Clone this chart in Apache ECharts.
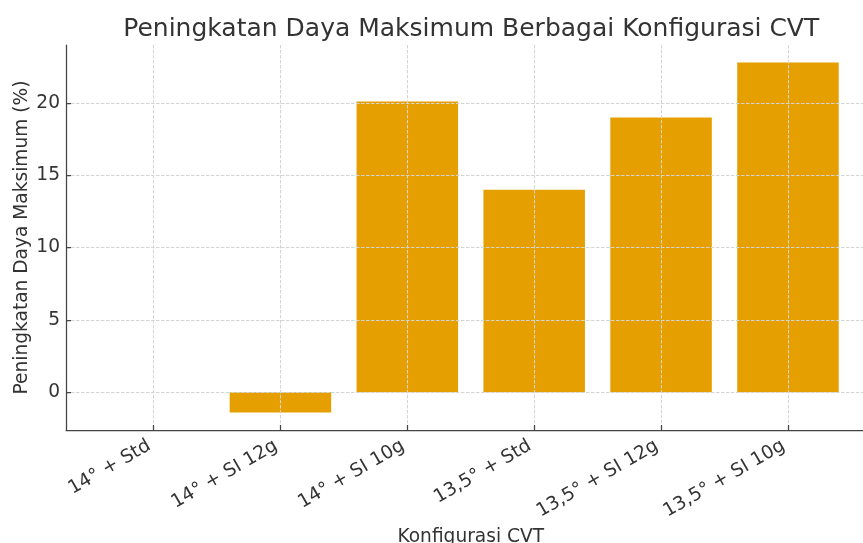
<!DOCTYPE html>
<html>
<head>
<meta charset="utf-8">
<script src="https://cdn.jsdelivr.net/npm/echarts@6/dist/echarts.min.js"></script>
<style>
html,body{margin:0;padding:0;background:#fff;}
#chart{width:863px;height:543px;}
</style>
</head>
<body>
<div id="chart"></div>
<script>
const categories = ['14° + Std', '14° + SI 12g', '14° + SI 10g', '13,5° + Std', '13,5° + SI 12g', '13,5° + SI 10g'];
const values = [0, -1.4, 20.1, 14.0, 19.0, 22.8];
const yTicks = [0, 5, 10, 15, 20];
const titleText = 'Peningkatan Daya Maksimum Berbagai Konfigurasi CVT';
const xName = 'Konfigurasi CVT';
const yName = 'Peningkatan Daya Maksimum (%)';

const W = 863, H = 543;
const gridLeft = 66, gridTop = 45, gridBottom = 113;
const plotW = 809.5;
const xMin = -0.69, xMax = categories.length - 1 + 0.69;
const vMin = Math.min(...values, 0), vMax = Math.max(...values, 0);
const pad = (vMax - vMin) * 0.05;
const yMin = vMin - pad, yMax = vMax + pad;
const barW = 0.8 * plotW / (xMax - xMin);
const font = 'DejaVu Sans';
const textColor = '#333';
const spineColor = '#444';
const tickFont = 18.6;
const gridLine = {show: true, lineStyle: {color: '#d4d4d4', type: [3.5, 1.5], width: 1}};

const chart = echarts.init(document.getElementById('chart'), null, {renderer: 'canvas'});
chart.setOption({
  animation: false,
  backgroundColor: '#fff',
  textStyle: {fontFamily: font},
  title: {
    text: titleText,
    left: gridLeft + plotW / 2 - 4.5,
    textAlign: 'center',
    top: 12,
    textStyle: {fontFamily: font, fontSize: 25, fontWeight: 'normal', color: textColor}
  },
  grid: {left: gridLeft, width: plotW, top: gridTop, bottom: gridBottom, containLabel: false, outerBoundsMode: 'none'},
  xAxis: {
    type: 'value',
    min: xMin, max: xMax,
    z: 5,
    name: xName,
    nameLocation: 'middle',
    nameGap: 98,
    nameMoveOverlap: false,
    nameTextStyle: {fontFamily: font, fontSize: tickFont, color: textColor},
    axisLine: {show: true, onZero: false, lineStyle: {color: spineColor, width: 1.25}},
    axisTick: {show: true, inside: true, length: 5, customValues: categories.map((c, i) => i), lineStyle: {color: spineColor, width: 1.25}},
    axisLabel: {
      customValues: categories.map((c, i) => i),
      formatter: v => categories[Math.round(v)] || '',
      rotate: 30, margin: 12, padding: [0, 5, 0, 0],
      fontFamily: font, fontSize: tickFont, color: textColor
    },
    splitLine: gridLine
  },
  yAxis: {
    type: 'value',
    min: yMin, max: yMax,
    z: 5,
    name: yName,
    nameLocation: 'middle',
    nameGap: 34,
    nameMoveOverlap: false,
    nameTextStyle: {fontFamily: font, fontSize: tickFont, color: textColor},
    axisLine: {show: true, onZero: false, lineStyle: {color: spineColor, width: 1.25}},
    axisTick: {show: true, inside: true, length: 5, customValues: yTicks, lineStyle: {color: spineColor, width: 1.25}},
    axisLabel: {customValues: yTicks, margin: 6, fontFamily: font, fontSize: tickFont, color: textColor},
    splitLine: gridLine
  },
  series: [{
    type: 'bar',
    data: values.map((v, i) => [i, v]),
    barWidth: barW,
    itemStyle: {color: '#E69F00'},
    z: 2
  }]
});
</script>
</body>
</html>
